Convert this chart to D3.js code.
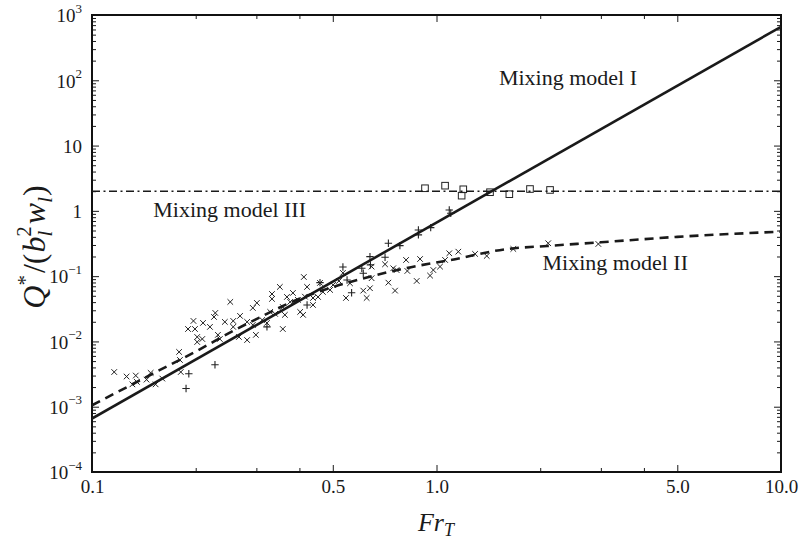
<!DOCTYPE html>
<html><head><meta charset="utf-8">
<script src="https://cdn.jsdelivr.net/npm/d3@7"></script>
<style>
body{margin:0;background:#fff;}
svg{display:block;font-family:"Liberation Serif","Times New Roman",serif;}
</style>
</head><body>
<svg id="chart" width="801" height="541"></svg>
<script>
// ---------- data ----------
const xTickValues = [0.1, 0.5, 1, 5, 10];
const xTickLabels = ["0.1", "0.5", "1.0", "5.0", "10.0"];
const xMinorTicks = [0.2, 0.3, 0.4, 2, 3, 4];
const yTickValues = [1e-4, 1e-3, 1e-2, 1e-1, 1, 10, 100, 1000];
const yTickBase = ["10", "10", "10", "10", "1", "10", "10", "10"];
const yTickExp = ["−4", "−3", "−2", "−1", "", "", "2", "3"];

const modelIFr = [0.1, 10];
const modelIQ = [6.6e-4, 660];
const modelIIFr = [0.1, 0.15, 0.2, 0.26, 0.3, 0.4, 0.5, 0.65, 0.8, 1.1, 1.6, 2.1, 3, 5, 10];
const modelIIQ = [1.05e-3, 3.2e-3, 7.0e-3, 0.015, 0.022, 0.045, 0.068, 0.10, 0.13, 0.177, 0.26, 0.29, 0.33, 0.40, 0.48];
const modelIIIFr = [0.1, 10];
const modelIIIQ = [2, 2];

// cross (x) markers
const crossFr = [0.116,0.126,0.134,0.131,0.135,0.144,0.148,0.153,0.160,0.179,0.181,0.180,
  0.197,0.190,0.199,0.210,0.220,0.202,0.209,0.202,0.228,0.226,0.243,0.252,0.257,0.257,0.232,0.235,
  0.269,0.267,0.282,0.282,0.293,0.301,0.293,0.299,0.312,0.322,0.333,0.333,0.351,0.329,0.340,0.358,
  0.368,0.376,0.383,0.396,0.358,0.363,0.402,0.410,0.412,0.421,0.438,0.453,0.438,0.459,0.468,0.491,
  0.501,0.546,0.521,0.535,
  1.157,1.089,1.294,1.399,1.671,2.11,2.95,1.059,1.024,0.979,0.958,0.876,0.896,0.816,0.823,0.766,
  0.709,0.749,0.725,0.758,0.648,0.648,0.641,0.613,0.627,0.561,0.415];
const crossQ = [0.0034,0.0029,0.0030,0.0022,0.0024,0.0026,0.0033,0.0022,0.0027,0.0069,0.0034,0.0052,
  0.0206,0.0155,0.0155,0.0192,0.0167,0.0117,0.0109,0.0098,0.0273,0.0237,0.0199,0.0403,0.0206,0.0167,0.0126,0.0109,
  0.0246,0.0117,0.0105,0.0199,0.0326,0.0389,0.0179,0.0126,0.0213,0.0192,0.0533,0.0448,0.0684,0.0283,0.0264,0.0337,
  0.0480,0.0403,0.0553,0.0433,0.0155,0.0255,0.0283,0.0255,0.097,0.0684,0.0463,0.0480,0.0362,0.0787,0.0573,0.0615,
  0.0733,0.0463,0.0844,0.112,
  0.237,0.224,0.219,0.204,0.261,0.319,0.311,0.177,0.140,0.124,0.102,0.0844,0.183,0.177,0.120,0.124,
  0.152,0.132,0.0795,0.060,0.140,0.093,0.0653,0.060,0.0463,0.0778,0.0485];

// plus (+) markers
const plusFr = [0.2275,0.191,0.1875,0.535,0.322,0.421,0.550,
  1.089,1.10,0.886,0.886,0.962,0.725,0.783,0.641,0.709,0.643,0.607,0.613,0.567,0.459];
const plusQ = [0.0044,0.0032,0.0019,0.138,0.0167,0.0362,0.0875,
  1.03,0.919,0.510,0.428,0.553,0.319,0.293,0.199,0.195,0.149,0.132,0.111,0.0558,0.0795];

// square markers
const squareFr = [0.926, 1.059, 1.196, 1.183, 1.43, 1.627, 1.868, 2.136];
const squareQ = [2.22, 2.43, 2.14, 1.71, 1.93, 1.80, 2.16, 2.09];

const annotations = ["Mixing model I", "Mixing model II", "Mixing model III"];

// ---------- drawing ----------
const L = 92, R = 781, T = 15, B = 472;
const svg = d3.select("#chart");
const ink = "#1a1a1a";
const serif = '"Liberation Serif","Times New Roman",serif';

const x = d3.scaleLog().domain([0.1, 10]).range([L, R]);
const y = d3.scaleLog().domain([1e-4, 1e3]).range([B, T]);

const yMinor = [];
for (let k = -4; k < 3; k++) for (let m = 2; m <= 9; m++) yMinor.push(m * Math.pow(10, k));

function styleAxis(g) {
  g.attr("font-family", serif);
  g.select(".domain").remove();
  g.selectAll(".tick line").attr("stroke", ink).attr("stroke-width", 1);
}

// bottom major
svg.append("g").attr("transform", `translate(0,${B})`)
  .call(d3.axisBottom(x).tickValues(xTickValues).tickSizeInner(-7).tickSizeOuter(0).tickPadding(8)
    .tickFormat((d, i) => xTickLabels[i]))
  .call(styleAxis)
  .call(g => g.selectAll("text").attr("font-size", 19).attr("fill", ink).attr("font-family", serif));
svg.append("g").attr("transform", `translate(0,${B})`)
  .call(d3.axisBottom(x).tickValues(xMinorTicks).tickSizeInner(-4).tickSizeOuter(0).tickFormat(""))
  .call(styleAxis);
// top
svg.append("g").attr("transform", `translate(0,${T})`)
  .call(d3.axisTop(x).tickValues(xTickValues).tickSizeInner(-7).tickSizeOuter(0).tickFormat(""))
  .call(styleAxis);
svg.append("g").attr("transform", `translate(0,${T})`)
  .call(d3.axisTop(x).tickValues(xMinorTicks).tickSizeInner(-4).tickSizeOuter(0).tickFormat(""))
  .call(styleAxis);
// left major
const leftAxis = svg.append("g").attr("transform", `translate(${L},0)`)
  .call(d3.axisLeft(y).tickValues(yTickValues).tickSizeInner(-7).tickSizeOuter(0).tickPadding(10).tickFormat(""))
  .call(styleAxis);
leftAxis.selectAll(".tick text").each(function(d, i) {
  const t = d3.select(this)
    .attr("font-size", 19).attr("fill", ink).attr("font-family", serif)
    .attr("dy", "0.36em");
  t.text(null);
  t.append("tspan").text(yTickBase[i]);
  if (yTickExp[i]) t.append("tspan").attr("font-size", 13).attr("dy", "-0.75em").text(yTickExp[i]);
});
svg.append("g").attr("transform", `translate(${L},0)`)
  .call(d3.axisLeft(y).tickValues(yMinor).tickSizeInner(-4).tickSizeOuter(0).tickFormat(""))
  .call(styleAxis);
// right
svg.append("g").attr("transform", `translate(${R},0)`)
  .call(d3.axisRight(y).tickValues(yTickValues).tickSizeInner(-7).tickSizeOuter(0).tickFormat(""))
  .call(styleAxis);
svg.append("g").attr("transform", `translate(${R},0)`)
  .call(d3.axisRight(y).tickValues(yMinor).tickSizeInner(-4).tickSizeOuter(0).tickFormat(""))
  .call(styleAxis);

// frame
svg.append("rect").attr("x", L).attr("y", T).attr("width", R - L).attr("height", B - T)
  .attr("fill", "none").attr("stroke", "#111").attr("stroke-width", 2);

svg.append("clipPath").attr("id", "clip").append("rect")
  .attr("x", L).attr("y", T).attr("width", R - L).attr("height", B - T);
const plot = svg.append("g").attr("clip-path", "url(#clip)");

// markers
const markerStroke = "#222";
const crossData = crossFr.map((f, i) => [f, crossQ[i]]);
const plusData = plusFr.map((f, i) => [f, plusQ[i]]);
const squareData = squareFr.map((f, i) => [f, squareQ[i]]);

plot.append("g").selectAll("path").data(crossData).join("path")
  .attr("d", d => {
    const cx = x(d[0]), cy = y(d[1]), r = 2.8;
    return `M${cx - r},${cy - r}L${cx + r},${cy + r}M${cx - r},${cy + r}L${cx + r},${cy - r}`;
  })
  .attr("stroke", markerStroke).attr("stroke-width", 1).attr("fill", "none");

plot.append("g").selectAll("path").data(plusData).join("path")
  .attr("d", d => {
    const cx = x(d[0]), cy = y(d[1]), r = 3.7;
    return `M${cx - r},${cy}L${cx + r},${cy}M${cx},${cy - r}L${cx},${cy + r}`;
  })
  .attr("stroke", markerStroke).attr("stroke-width", 1.1).attr("fill", "none");

plot.append("g").selectAll("rect").data(squareData).join("rect")
  .attr("x", d => x(d[0]) - 3.3).attr("y", d => y(d[1]) - 3.3)
  .attr("width", 6.6).attr("height", 6.6)
  .attr("stroke", markerStroke).attr("stroke-width", 1).attr("fill", "none");

// model lines
const line = d3.line().x(d => x(d[0])).y(d => y(d[1]));
const lineCurve = d3.line().x(d => x(d[0])).y(d => y(d[1])).curve(d3.curveMonotoneX);

plot.append("path").datum(modelIIIFr.map((f, i) => [f, modelIIIQ[i]]))
  .attr("d", line).attr("fill", "none").attr("stroke", ink).attr("stroke-width", 1.6)
  .attr("stroke-dasharray", "8,3.5,2,3.5");
plot.append("path").datum(modelIIFr.map((f, i) => [f, modelIIQ[i]]))
  .attr("d", lineCurve).attr("fill", "none").attr("stroke", ink).attr("stroke-width", 2.6)
  .attr("stroke-dasharray", "9,6");
plot.append("path").datum(modelIFr.map((f, i) => [f, modelIQ[i]]))
  .attr("d", line).attr("fill", "none").attr("stroke", ink).attr("stroke-width", 2.6);

// annotations
const annFont = 22;
svg.append("text").attr("x", 637).attr("y", 85).attr("text-anchor", "end")
  .attr("font-size", annFont).attr("fill", ink).text(annotations[0]);
svg.append("text").attr("x", 688).attr("y", 270).attr("text-anchor", "end")
  .attr("font-size", annFont).attr("fill", ink).text(annotations[1]);
svg.append("text").attr("x", 306).attr("y", 217).attr("text-anchor", "end")
  .attr("font-size", annFont).attr("fill", ink).text(annotations[2]);

// x axis title
const xt = svg.append("text").attr("x", 436).attr("y", 531).attr("text-anchor", "middle")
  .attr("font-size", 26).attr("font-style", "italic").attr("fill", ink);
xt.append("tspan").text("Fr");
xt.append("tspan").attr("font-size", 18).attr("dy", 5).text("T");

// y axis title
const yt = svg.append("text").attr("transform", "translate(45,247) rotate(-90)")
  .attr("text-anchor", "middle").attr("font-size", 32).attr("fill", ink);
yt.append("tspan").attr("font-style", "italic").text("Q");
yt.append("tspan").attr("font-size", 21).attr("dy", -13).text("*");
yt.append("tspan").attr("dx", 2).attr("dy", 13).text("/(");
yt.append("tspan").attr("font-style", "italic").attr("dx", 1).text("b");
yt.append("tspan").attr("font-style", "italic").attr("font-size", 21).attr("dy", 7).text("l");
yt.append("tspan").attr("font-size", 21).attr("dx", -6).attr("dy", -21).text("2");
yt.append("tspan").attr("font-style", "italic").attr("dx", 2).attr("dy", 14).text("w");
yt.append("tspan").attr("font-style", "italic").attr("font-size", 21).attr("dy", 7).text("l");
yt.append("tspan").attr("dx", 1).attr("dy", -7).text(")");
</script>
</body></html>
